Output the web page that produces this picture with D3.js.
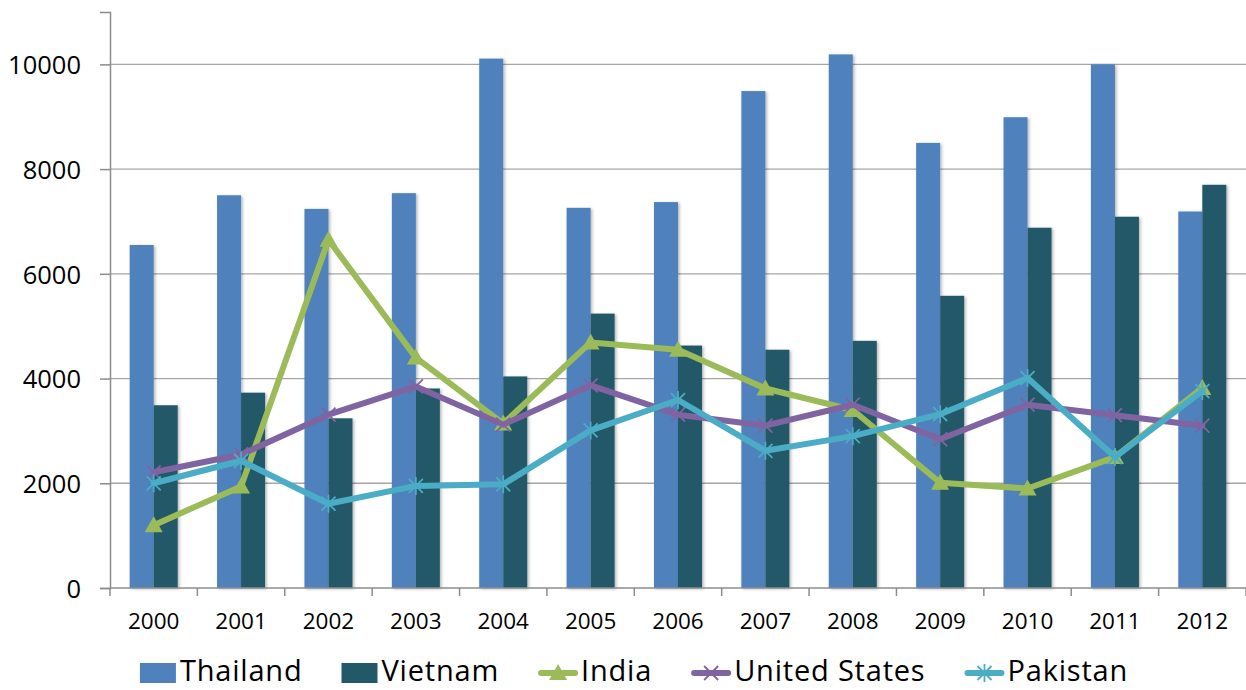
<!DOCTYPE html>
<html>
<head>
<meta charset="utf-8">
<script src="https://cdn.jsdelivr.net/npm/d3@7"></script>
<style>
  html, body { margin: 0; padding: 0; background: #ffffff; }
  svg { display: block; font-family: "Open Sans", "Liberation Sans", sans-serif; }
</style>
</head>
<body>
<svg id="chart" width="1246" height="690"></svg>
<script>
// Rice exports by country, 2000–2012
const years = ["2000","2001","2002","2003","2004","2005","2006","2007","2008","2009","2010","2011","2012"];
const thailand = [6550, 7500, 7240, 7540, 10110, 7260, 7370, 9490, 10190, 8500, 8990, 10000, 7190];
const vietnam  = [3490, 3730, 3240, 3810, 4040, 5240, 4630, 4550, 4720, 5580, 6880, 7090, 7700];
const india    = [1200, 1940, 6650, 4400, 3140, 4690, 4550, 3810, 3400, 2010, 1900, 2500, 3820];
const unitedStates = [2210, 2550, 3310, 3850, 3120, 3870, 3310, 3100, 3500, 2840, 3500, 3300, 3100];
const pakistan = [2000, 2430, 1610, 1950, 1980, 3010, 3590, 2620, 2900, 3320, 4010, 2500, 3760];
const yTicks = [0, 2000, 4000, 6000, 8000, 10000];

const barSeries = [
  { name: "Thailand", values: thailand, color: "#4F81BD" },
  { name: "Vietnam",  values: vietnam,  color: "#215968" }
];
const lineSeries = [
  { name: "India",         values: india,        color: "#9BBB59", marker: "triangle" },
  { name: "United States", values: unitedStates, color: "#8064A2", marker: "cross" },
  { name: "Pakistan",      values: pakistan,     color: "#4BACC6", marker: "star" }
];

const svg = d3.select("#chart");
const plotLeft = 110, plotRight = 1246, plotTop = 12, plotBottom = 588;

const x = d3.scaleBand().domain(years).range([plotLeft, plotRight]).paddingInner(0).paddingOuter(0);
const xInner = d3.scaleBand().domain(barSeries.map(s => s.name))
  .range([0, x.bandwidth()]).paddingInner(0).paddingOuter(0.82);
const y = d3.scaleLinear().domain([0, 11000]).range([plotBottom, plotTop]);

// soft shadow behind the columns
const defs = svg.append("defs");
const f = defs.append("filter").attr("id", "barShadow")
  .attr("x", "-30%").attr("y", "-5%").attr("width", "160%").attr("height", "110%");
f.append("feDropShadow").attr("dx", 1.5).attr("dy", 1).attr("stdDeviation", 1.4)
  .attr("flood-color", "#000").attr("flood-opacity", 0.3);

// horizontal gridlines
svg.append("g").selectAll("line").data(yTicks.filter(d => d > 0)).join("line")
  .attr("x1", plotLeft).attr("x2", plotRight)
  .attr("y1", d => y(d)).attr("y2", d => y(d))
  .attr("stroke", "#a6a6a6").attr("stroke-width", 1.3);

// columns
barSeries.forEach(s => {
  svg.append("g").attr("filter", "url(#barShadow)")
    .selectAll("rect").data(s.values).join("rect")
    .attr("x", (d, i) => x(years[i]) + xInner(s.name))
    .attr("width", xInner.bandwidth())
    .attr("y", d => y(d))
    .attr("height", d => y(0) - y(d))
    .attr("fill", s.color);
});

// axes
const yAxis = d3.axisLeft(y).tickValues(yTicks).tickSize(10).tickPadding(19).tickFormat(d3.format("d"));
const gy = svg.append("g").attr("transform", `translate(${plotLeft},0)`).call(yAxis);
gy.select(".domain").attr("stroke", "#8c8c8c").attr("stroke-width", 1.5);
gy.selectAll(".tick line").attr("stroke", "#8c8c8c").attr("stroke-width", 1.5);
gy.selectAll(".tick text").attr("font-size", 25.5).attr("fill", "#000")
  .attr("font-family", "'Open Sans', sans-serif").attr("dy", "0.36em");

const gx = svg.append("g").attr("transform", `translate(0,${plotBottom})`);
gx.append("line").attr("x1", plotLeft).attr("x2", plotRight).attr("stroke", "#8c8c8c").attr("stroke-width", 1.5);
const boundaries = years.map(yr => x(yr)).concat([x(years[years.length - 1]) + x.bandwidth()]);
gx.selectAll("line.tick").data(boundaries).join("line").attr("class", "tick")
  .attr("x1", d => d).attr("x2", d => d).attr("y1", 0).attr("y2", 8)
  .attr("stroke", "#8c8c8c").attr("stroke-width", 1.5);
gx.selectAll("text").data(years).join("text")
  .attr("x", d => x(d) + x.bandwidth() / 2).attr("y", 41)
  .attr("text-anchor", "middle").attr("font-size", 22.5).attr("fill", "#000")
  .text(d => d);

// marker shapes
function drawMarker(g, type, color) {
  if (type === "triangle") {
    g.append("path").attr("d", "M0,-9 L9,7 L-9,7 Z").attr("fill", color);
  } else if (type === "cross") {
    g.append("path").attr("d", "M-7,-7 L7,7 M-7,7 L7,-7")
      .attr("stroke", color).attr("stroke-width", 1.8).attr("fill", "none");
  } else {
    g.append("path").attr("d", "M-7,-7 L7,7 M-7,7 L7,-7 M0,-9 L0,9")
      .attr("stroke", color).attr("stroke-width", 1.8).attr("fill", "none");
  }
}

// line series
const line = d3.line().x((d, i) => x(years[i]) + x.bandwidth() / 2).y(d => y(d));
lineSeries.forEach(s => {
  const g = svg.append("g");
  g.append("path").datum(s.values).attr("d", line)
    .attr("fill", "none").attr("stroke", s.color).attr("stroke-width", 6)
    .attr("stroke-linejoin", "round").attr("stroke-linecap", "round");
  s.values.forEach((v, i) => {
    const m = g.append("g").attr("transform", `translate(${x(years[i]) + x.bandwidth() / 2},${y(v)})`);
    drawMarker(m, s.marker, s.color);
  });
});

// legend
const legendItems = barSeries.map(s => ({ name: s.name, color: s.color, kind: "bar" }))
  .concat(lineSeries.map(s => ({ name: s.name, color: s.color, kind: "line", marker: s.marker })));
const lg = svg.append("g");
const baseY = 681;
const gap = 39;
let cx = 0;
legendItems.forEach(it => {
  const g = lg.append("g");
  if (it.kind === "bar") {
    g.append("rect").attr("x", 0).attr("y", baseY - 18).attr("width", 36).attr("height", 20).attr("fill", it.color);
  } else {
    g.append("line").attr("x1", 3).attr("x2", 37).attr("y1", baseY - 8).attr("y2", baseY - 8)
      .attr("stroke", it.color).attr("stroke-width", 6).attr("stroke-linecap", "round");
    const m = g.append("g").attr("transform", `translate(20,${baseY - 8})`);
    drawMarker(m, it.marker, it.color);
  }
  const tx = it.kind === "bar" ? 40 : 43;
  const t = g.append("text").attr("x", tx).attr("y", baseY)
    .attr("font-size", 29).attr("letter-spacing", 0.8).attr("fill", "#000").text(it.name);
  const w = tx + t.node().getComputedTextLength();
  g.attr("transform", `translate(${cx},0)`);
  cx += w + gap;
});
const totalW = cx - gap;
lg.attr("transform", `translate(${634 - totalW / 2},0)`);
</script>
</body>
</html>
